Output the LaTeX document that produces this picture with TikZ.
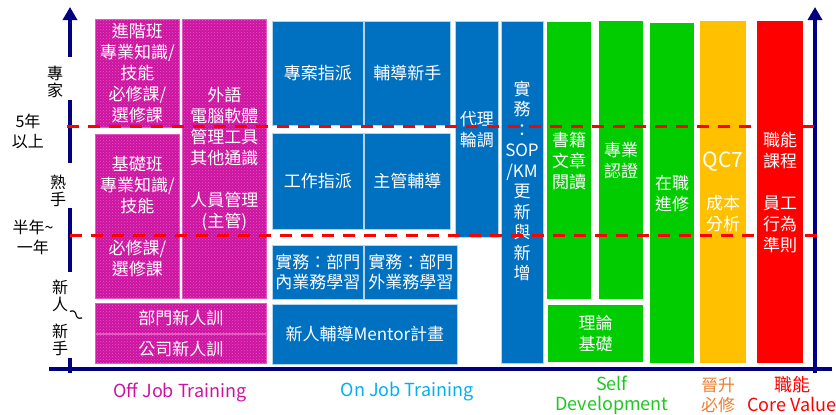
\documentclass[tikz,border=0pt]{standalone}
\usepackage{fontspec}
\setmainfont{Noto Sans CJK TC}
\usepackage{tikz}
\usetikzlibrary{patterns}
\usetikzlibrary{arrows.meta}
\definecolor{axisblue}{RGB}{0,0,128}
\definecolor{offjob}{RGB}{204,20,160}
\definecolor{offjobdots}{RGB}{228,88,196}
\definecolor{onjob}{RGB}{0,112,192}
\definecolor{onjobtext}{RGB}{0,176,240}
\definecolor{selfdev}{RGB}{0,204,0}
\definecolor{selftext}{RGB}{30,200,30}
\definecolor{promo}{RGB}{255,192,0}
\definecolor{promotext}{RGB}{237,125,49}
\definecolor{corered}{RGB}{255,0,0}
\tikzstyle{every node}=[font=\fontsize{17}{21}\selectfont,inner sep=0pt,align=center]
\tikzstyle{box}=[anchor=north west,text=white]
\tikzstyle{offbox}=[box,fill=offjob,draw=offjobdots,line width=0.8pt,
  postaction={pattern=crosshatch dots,pattern color=offjobdots}]
\tikzstyle{onbox}=[box,fill=onjob,draw=white!70!onjob,line width=0.8pt]
\tikzstyle{selfbox}=[box,fill=selfdev]
\tikzstyle{axis}=[draw=axisblue,line width=4pt]
\tikzstyle{uptip}=[-{Triangle[width=14pt,length=13pt]}]
\tikzstyle{level}=[draw=corered,line width=3pt,dash pattern=on 12pt off 9pt]
\tikzstyle{axislabel}=[font=\fontsize{16}{20}\selectfont]
\tikzstyle{catlabel}=[font=\fontsize{18}{20}\selectfont]

\begin{document}
\begin{tikzpicture}[x=1pt,y=-1pt]
  \useasboundingbox (0,0) rectangle (836,415);
  % off job training
  \node[offbox,minimum width=84pt,minimum height=108pt] (advanced) at (95,19)
    {進階班\\專業知識/\\技能\\必修課/\\選修課};
  \node[offbox,minimum width=84pt,minimum height=164pt] (basic) at (95,134)
    {基礎班\\專業知識/\\技能\\ \\必修課/\\選修課};
  \node[offbox,minimum width=84pt,minimum height=279pt] (general) at (182,19)
    {外語\\電腦軟體\\管理工具\\其他通識\\ \\人員管理\\(主管)};
  \node[offbox,minimum width=171pt,minimum height=30pt] (deptnew) at (95,303) {部門新人訓};
  \node[offbox,minimum width=171pt,minimum height=29pt] (compnew) at (95,334) {公司新人訓};
  % on job training
  \node[onbox,minimum width=91pt,minimum height=104pt] (project) at (272,21) {專案指派};
  \node[onbox,minimum width=86pt,minimum height=104pt] (guide) at (364,21) {輔導新手};
  \node[onbox,minimum width=91pt,minimum height=96pt] (work) at (272,133) {工作指派};
  \node[onbox,minimum width=86pt,minimum height=96pt] (coach) at (364,133) {主管輔導};
  \node[onbox,minimum width=43pt,minimum height=216pt] (rotation) at (455,21) {代理\\輪調};
  \node[onbox,minimum width=42pt,minimum height=342pt] (sop) at (501,21) {};
  \node[text=white,font=\fontsize{17}{20.5}\selectfont] (soptext) at (522,181)
    {實\\務\\：\\SOP\\/KM\\更\\新\\與\\新\\增};
  \node[onbox,minimum width=91pt,minimum height=54pt,font=\fontsize{17}{20}\selectfont] (inner) at (272,245)
    {實務：部門\\內業務學習};
  \node[onbox,minimum width=93pt,minimum height=54pt,font=\fontsize{17}{20}\selectfont] (outer) at (364,245)
    {實務：部門\\外業務學習};
  \node[onbox,minimum width=185pt,minimum height=60pt] (mentor) at (272,304) {新人輔導Mentor計畫};
  % self development
  \node[selfbox,minimum width=44pt,minimum height=277pt] (reading) at (547,22) {書籍\\文章\\閱讀};
  \node[selfbox,minimum width=44pt,minimum height=278pt] (cert) at (599,21) {專業\\認證};
  \node[selfbox,minimum width=44pt,minimum height=340pt] (study) at (650,23) {在職\\進修};
  \node[selfbox,minimum width=95pt,minimum height=57pt] (theory) at (548,305) {理論\\基礎};
  % promotion, core value
  \node[box,fill=promo,minimum width=46pt,minimum height=342pt] (qc) at (700,21)
    {{\fontsize{21}{21}\selectfont QC7}\\ \\成本\\分析};
  \node[box,fill=corered,minimum width=46pt,minimum height=342pt] (core) at (757,21)
    {職能\\課程\\ \\員工\\行為\\準則};
  % axes
  \coordinate (ytop) at (70,7);
  \coordinate (rtop) at (815,7);
  \draw[axis,uptip] (70,57) -- (ytop);
  \draw[axis] (70,100) -- (70,163);
  \draw[axis] (70,208) -- (70,272);
  \draw[axis] (70,358) -- (70,373);
  \draw[axis] (49,369) -- (832,369);
  \draw[axis,uptip] (815,373) -- (rtop);
  % levels
  \draw[level] (67,126) -- (820,126);
  \draw[level] (70,235) -- (820,235);
  \node[axislabel,font=\fontsize{16}{17}\selectfont] (expert) at (55,82) {專\\家};
  \node[axislabel] (fiveyear) at (28,131) {5年\\以上};
  \node[axislabel,font=\fontsize{16}{17}\selectfont] (skilled) at (58,191) {熟\\手};
  \node[axislabel] (halfyear) at (33,237) {半年\textasciitilde\\一年};
  \node[axislabel,font=\fontsize{16}{17}\selectfont] (newbie) at (60,296) {新\\人};
  \node[axislabel,rotate=-35] (tilde) at (75,317) {～};
  \node[axislabel,font=\fontsize{16}{17}\selectfont] (novice) at (60,340) {新\\手};
  % categories
  \node[catlabel,text=offjob] (offlabel) at (180,392) {Off Job Training};
  \node[catlabel,text=onjobtext] (onlabel) at (407,392) {On Job Training};
  \node[catlabel,text=selftext] (selflabel) at (612,395) {Self\\Development};
  \node[catlabel,font=\fontsize{17}{20}\selectfont,text=promotext] (promolabel) at (718,395) {晉升\\必修};
  \node[catlabel,text=corered] (corelabel) at (792,394) {職能\\Core Value};
\end{tikzpicture}
\end{document}
